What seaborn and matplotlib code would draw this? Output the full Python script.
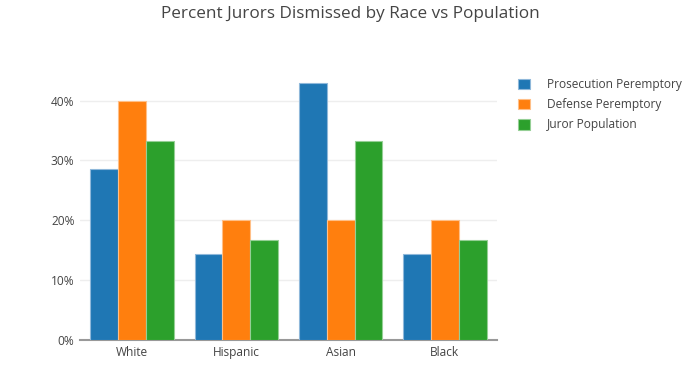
import pandas as pd
import seaborn as sns
import matplotlib.pyplot as plt
from matplotlib.ticker import FuncFormatter
from matplotlib.patches import Patch

# --- data (percent) ---
races = ['White', 'Hispanic', 'Asian', 'Black']
series = ['Prosecution Peremptory', 'Defense Peremptory', 'Juror Population']
prosecution = [28.6, 14.3, 42.9, 14.3]
defense = [40.0, 20.0, 20.0, 20.0]
population = [33.3, 16.7, 33.3, 16.7]
colors = ['#1f77b4', '#ff7f0e', '#2ca02c']
edges = ['#8fb8da', '#ffbf87', '#95cf95']

rows = []
for name, vals in zip(series, [prosecution, defense, population]):
    for race, v in zip(races, vals):
        rows.append({'Race': race, 'Series': name, 'Percent': v})
df = pd.DataFrame(rows)

sns.set_style("white")
plt.rcParams['font.family'] = ['Open Sans', 'DejaVu Sans']
text_col = '#444444'

fig = plt.figure(figsize=(7, 3.91), dpi=100)
ax = fig.add_axes([0.1143, 0.1304, 0.5957, 0.6905])

sns.barplot(data=df, x='Race', y='Percent', hue='Series', palette=colors,
            saturation=1, width=0.8, gap=0, legend=False, ax=ax, zorder=3)

for i, bars in enumerate(ax.containers):
    for b in bars:
        b.set_edgecolor(edges[i])
        b.set_linewidth(0.8)

ax.set_xlim(-0.5, 3.5)
ax.set_ylim(0, 45.1)
ax.set_yticks([0, 10, 20, 30, 40])
ax.yaxis.set_major_formatter(FuncFormatter(lambda v, p: f'{v:.0f}%'))
ax.grid(axis='y', color='#eeeeee', linewidth=1, zorder=0)
ax.set_axisbelow(True)
for s in ['top', 'right', 'left']:
    ax.spines[s].set_visible(False)
ax.spines['bottom'].set_color('#999999')
ax.spines['bottom'].set_linewidth(1.5)
ax.tick_params(axis='both', length=0, labelsize=8.6, colors=text_col, pad=4)
ax.set_xlabel('')
ax.set_ylabel('')

fig.suptitle('Percent Jurors Dismissed by Race vs Population', x=0.5, y=0.985,
             fontsize=12.3, color=text_col)

handles = [Patch(facecolor=c, edgecolor=e, linewidth=0.8) for c, e in zip(colors, edges)]
fig.legend(handles, series, loc='upper left', bbox_to_anchor=(0.725, 0.828),
           frameon=False, fontsize=8.6, labelcolor=text_col, handlelength=1.0,
           handleheight=1.0, handletextpad=1.4, labelspacing=0.6)

fig.savefig('out.png', dpi=100)
plt.close(fig)
